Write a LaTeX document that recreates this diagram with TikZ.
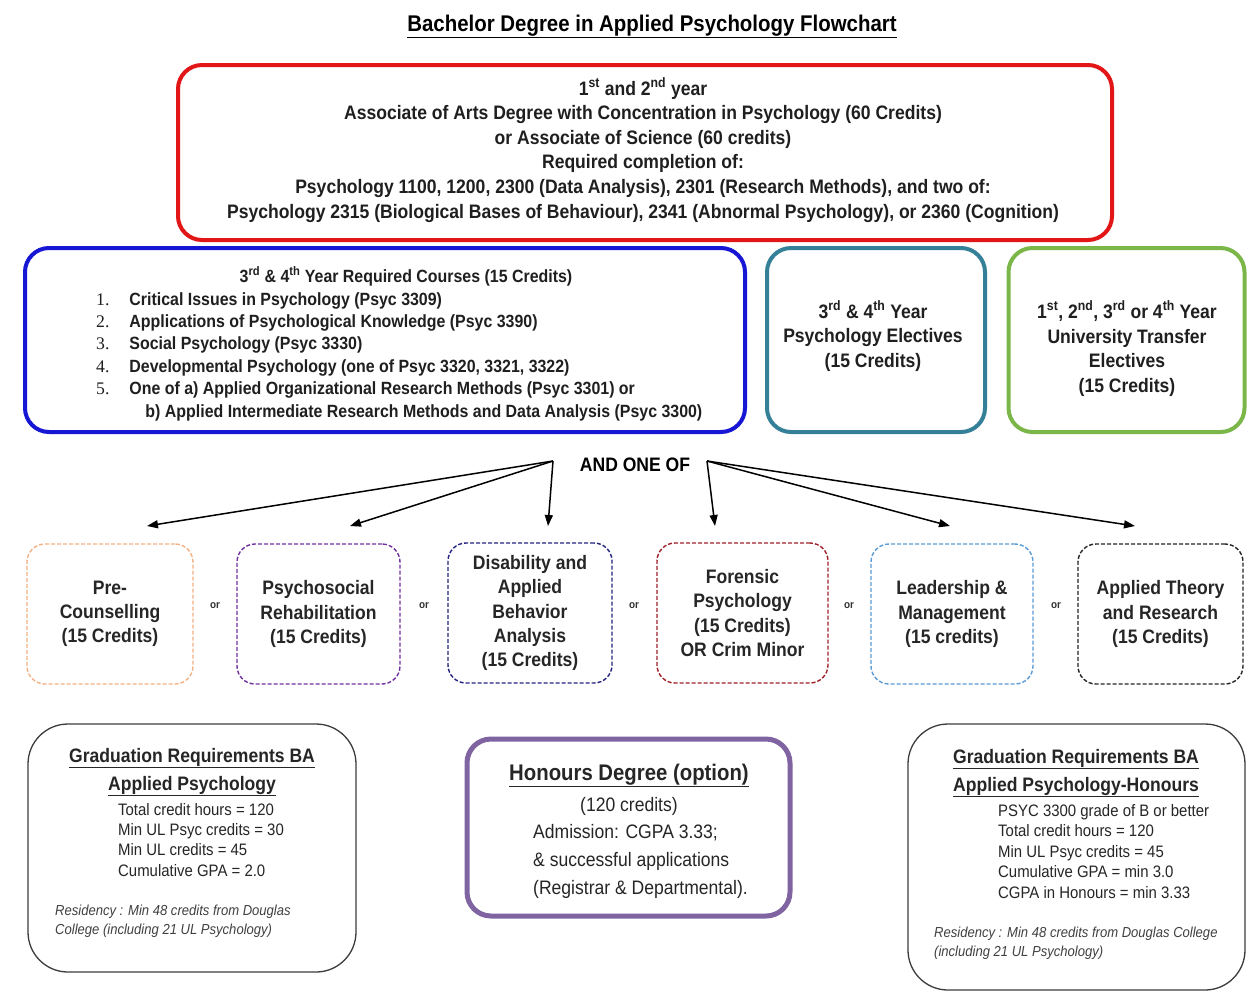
\documentclass[tikz,border=0pt]{standalone}
\usepackage{fontspec}
\setmainfont[FakeStretch=0.9]{Liberation Sans}
\newfontfamily\numfont{Liberation Serif}
\usetikzlibrary{arrows.meta}
\definecolor{cRed}{RGB}{226,22,22}
\definecolor{cBlue}{RGB}{22,22,212}
\definecolor{cTeal}{RGB}{52,128,152}
\definecolor{cGreen}{RGB}{122,182,72}
\definecolor{cOrange}{RGB}{244,177,131}
\definecolor{cPurple}{RGB}{112,48,160}
\definecolor{cNavy}{RGB}{36,36,128}
\definecolor{cDarkRed}{RGB}{160,32,40}
\definecolor{cLightBlue}{RGB}{91,155,213}
\definecolor{cHon}{RGB}{128,100,162}
\definecolor{cGray}{RGB}{60,60,60}
\tikzset{
  bigbox/.style={draw, line width=4pt, rounded corners=24pt, inner sep=0pt, fill=white},
  dashbox/.style={draw, line width=1.4pt, dash pattern=on 4pt off 2pt, rounded corners=18pt, inner sep=0pt, fill=white, align=center, font=\fontsize{19.5}{24.3}\selectfont\bfseries, text=black!85},
  gradbox/.style={draw=cGray, line width=1.3pt, rounded corners=40pt, inner sep=0pt, fill=white},
  txt/.style={inner sep=0pt, anchor=base},
  mtxt/.style={inner sep=0pt, align=center, font=\fontsize{19.5}{24.5}\selectfont\bfseries, text=black!88},
  orlabel/.style={inner sep=0pt, font=\fontsize{11}{12}\selectfont\bfseries, text=black!80},
  arr/.style={line width=1.5pt, -{Triangle[length=11pt,width=8pt]}},
}
\begin{document}
\begin{tikzpicture}[x=1pt,y=-1pt]
\useasboundingbox (0,0) rectangle (1248,997);
\fill[white] (0,0) rectangle (1248,997);

% title
\node[txt, font=\fontsize{22.7}{26}\selectfont\bfseries] (title) at (652,31) {\underline{Bachelor Degree in Applied Psychology Flowchart}};

% red box
\node[bigbox, draw=cRed, minimum width=934pt, minimum height=175pt] (aa) at (645,152.5) {};
\node[mtxt, font=\fontsize{19.5}{24.6}\selectfont\bfseries, anchor=base] (aatext) at (643,218) {%
1\textsuperscript{st} and 2\textsuperscript{nd} year\\
Associate of Arts Degree with Concentration in Psychology (60 Credits)\\
or Associate of Science (60 credits)\\
Required completion of:\\
Psychology 1100, 1200, 2300 (Data Analysis), 2301 (Research Methods), and two of:\\
Psychology 2315 (Biological Bases of Behaviour), 2341 (Abnormal Psychology), or 2360 (Cognition)};

% blue box
\node[bigbox, draw=cBlue, minimum width=720pt, minimum height=184pt] (req) at (385,340) {};
\node[txt, font=\fontsize{17.7}{24}\selectfont\bfseries, text=black!88] (reqtitle) at (406,282) {3\textsuperscript{rd} \& 4\textsuperscript{th} Year Required Courses (15 Credits)};
\node[inner sep=0pt, anchor=base west, font=\fontsize{17.7}{22.4}\selectfont\bfseries, text=black!88] (reqlist) at (96,305) {%
\begin{tabular}[t]{@{}l@{\hspace{20pt}}l@{}}
{\numfont\mdseries 1.} & Critical Issues in Psychology (Psyc 3309)\\
{\numfont\mdseries 2.} & Applications of Psychological Knowledge (Psyc 3390)\\
{\numfont\mdseries 3.} & Social Psychology (Psyc 3330)\\
{\numfont\mdseries 4.} & Developmental Psychology (one of Psyc 3320, 3321, 3322)\\
{\numfont\mdseries 5.} & One of a) Applied Organizational Research Methods (Psyc 3301) or\\
 & \hspace{16pt}b) Applied Intermediate Research Methods and Data Analysis (Psyc 3300)
\end{tabular}};

% teal box
\node[bigbox, draw=cTeal, minimum width=218pt, minimum height=184pt] (elec) at (876,340) {};
\node[mtxt, anchor=base] (electext) at (873,367) {3\textsuperscript{rd} \& 4\textsuperscript{th} Year\\Psychology Electives\\(15 Credits)};

% green box
\node[bigbox, draw=cGreen, minimum width=236pt, minimum height=184pt] (ut) at (1126.5,340) {};
\node[mtxt, anchor=base] (uttext) at (1127,392) {1\textsuperscript{st}, 2\textsuperscript{nd}, 3\textsuperscript{rd} or 4\textsuperscript{th} Year\\University Transfer\\Electives\\(15 Credits)};

% AND ONE OF
\node[txt, font=\fontsize{19.5}{22}\selectfont\bfseries] (andone) at (635,471) {AND ONE OF};
\coordinate (L) at (553,461);
\coordinate (R) at (707,461);
\coordinate (e1) at (147,526);
\coordinate (e2) at (350,526);
\coordinate (e3) at (548,526);
\coordinate (e4) at (715,526);
\coordinate (e5) at (950,526);
\coordinate (e6) at (1135,526);
\draw[arr] (L) -- (e1);
\draw[arr] (L) -- (e2);
\draw[arr] (L) -- (e3);
\draw[arr] (R) -- (e4);
\draw[arr] (R) -- (e5);
\draw[arr] (R) -- (e6);

% options
\node[dashbox, draw=cOrange, minimum width=166pt, minimum height=140pt] (pc) at (110,614) {Pre-\\Counselling\\(15 Credits)};
\node[dashbox, draw=cPurple, minimum width=163pt, minimum height=140pt] (pr) at (318.5,614) {Psychosocial\\Rehabilitation\\(15 Credits)};
\node[dashbox, draw=cNavy, minimum width=164pt, minimum height=140pt] (dab) at (530,613) {Disability and\\Applied\\Behavior\\Analysis\\(15 Credits)};
\coordinate (dabtext) at (530,617);
\node[dashbox, draw=cDarkRed, minimum width=171pt, minimum height=140pt] (fp) at (742.5,613) {Forensic\\Psychology\\(15 Credits)\\OR Crim Minor};
\node[dashbox, draw=cLightBlue, minimum width=162pt, minimum height=140pt] (lm) at (952,614) {Leadership \&\\Management\\(15 credits)};
\node[dashbox, draw=black!85, minimum width=165pt, minimum height=140pt] (atr) at (1160.5,614) {Applied Theory\\and Research\\(15 Credits)};
\node[orlabel] (or1) at (215,606) {or};
\node[orlabel] (or2) at (424,606) {or};
\node[orlabel] (or3) at (634,606) {or};
\node[orlabel] (or4) at (849,606) {or};
\node[orlabel] (or5) at (1056,606) {or};

% graduation BA
\node[gradbox, minimum width=328pt, minimum height=248pt] (gba) at (192,848) {};
\node[txt, font=\fontsize{19.5}{22}\selectfont\bfseries, text=black!85] (gbat1) at (192,762) {\underline{Graduation Requirements BA}};
\node[txt, font=\fontsize{19.5}{22}\selectfont\bfseries, text=black!85] (gbat2) at (192,790) {\underline{Applied Psychology}};
\node[inner sep=0pt, anchor=base west, align=left, font=\fontsize{16.6}{20.1}\selectfont, text=black!85] (gbabody) at (118,876) {%
Total credit hours = 120\\Min UL Psyc credits = 30\\Min UL credits = 45\\Cumulative GPA = 2.0};
\node[inner sep=0pt, anchor=base west, align=left, font=\fontsize{14.5}{19}\selectfont\itshape, text=black!75] (gbares) at (55,934) {%
Residency : Min 48 credits from Douglas\\College (including 21 UL Psychology)};

% honours
\node[bigbox, draw=cHon, line width=5pt, minimum width=323pt, minimum height=177pt] (hon) at (628.5,827.5) {};
\node[txt, font=\fontsize{22.6}{24}\selectfont\bfseries, text=black!85] (hont) at (629,780) {\underline{Honours Degree (option)}};
\node[txt, font=\fontsize{19.5}{22}\selectfont, text=black!85] (hon1) at (629,811) {(120 credits)};
\node[inner sep=0pt, anchor=base west, align=left, font=\fontsize{19.5}{28}\selectfont, text=black!85] (honbody) at (533,894) {%
Admission: CGPA 3.33;\\\& successful applications\\(Registrar \& Departmental).};

% graduation honours
\node[gradbox, minimum width=337pt, minimum height=266pt] (gbh) at (1076.5,857) {};
\node[txt, font=\fontsize{19.5}{22}\selectfont\bfseries, text=black!85] (gbht1) at (1076,763) {\underline{Graduation Requirements BA}};
\node[txt, font=\fontsize{19.5}{22}\selectfont\bfseries, text=black!85] (gbht2) at (1076,791) {\underline{Applied Psychology-Honours}};
\node[inner sep=0pt, anchor=base west, align=left, font=\fontsize{16.6}{20.5}\selectfont, text=black!85] (gbhbody) at (998,898) {%
PSYC 3300 grade of B or better\\Total credit hours = 120\\Min UL Psyc credits = 45\\Cumulative GPA = min 3.0\\CGPA in Honours = min 3.33};
\node[inner sep=0pt, anchor=base west, align=left, font=\fontsize{14.5}{19}\selectfont\itshape, text=black!75] (gbhres) at (934,956) {%
Residency : Min 48 credits from Douglas College\\(including 21 UL Psychology)};
\end{tikzpicture}
\end{document}
